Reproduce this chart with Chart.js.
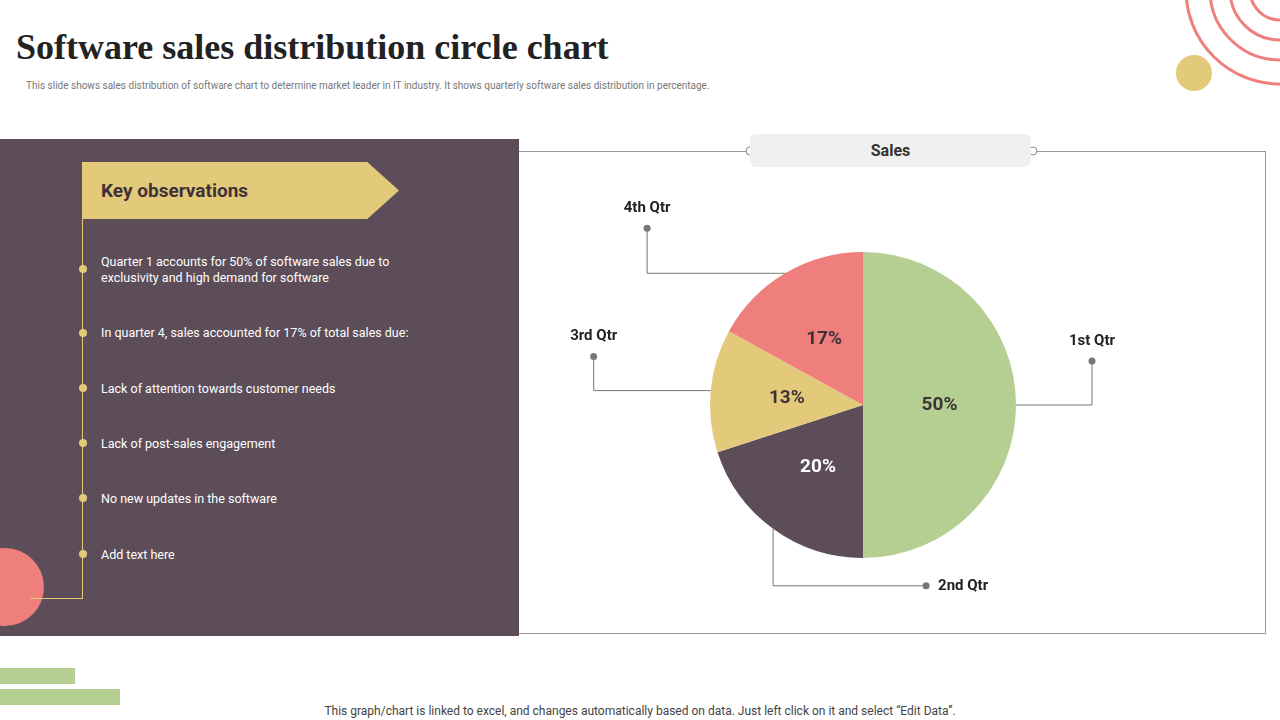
<!DOCTYPE html>
<html>
<head>
<meta charset="utf-8">
<script src="https://cdn.jsdelivr.net/npm/chart.js@4/dist/chart.umd.min.js"></script>
<style>
  body { margin: 0; width: 1280px; height: 720px; position: relative; overflow: hidden; background: #fff; font-family: Roboto, "Liberation Sans", sans-serif; }
  .abs { position: absolute; }
  h1 { position: absolute; left: 16px; top: 26px; margin: 0; font-family: "Liberation Serif", serif; font-size: 36px; font-weight: bold; color: #222; }
  .sub { left: 26px; top: 80px; font-size: 10px; color: #777; }
  .panel { left: 0; top: 139px; width: 519px; height: 497px; background: #5c4d58; overflow: hidden; }
  .key { left: 82px; top: 162px; width: 317px; height: 57px; background: #e3c97a; clip-path: polygon(0 0, 90% 0, 100% 50%, 90% 100%, 0 100%); }
  .key span { position: absolute; left: 19px; top: 17px; font-size: 19px; font-weight: bold; color: #3e3238; }
  .vline { left: 82px; top: 219px; width: 1px; height: 380px; background: #e3c97a; }
  .hline { left: 30px; top: 598px; width: 53px; height: 1px; background: #e3c97a; }
  .dot { width: 8px; height: 8px; border-radius: 50%; background: #e3c97a; }
  .obs { left: 101px; font-size: 12.5px; color: #fff; line-height: 16px; }
  .box { left: 519px; top: 151px; width: 746px; height: 481px; border: 1px solid #999; border-left: none; }
  .sales { left: 750px; top: 134px; width: 281px; height: 33px; background: #f0f0f0; border-radius: 6px; text-align: center; line-height: 34px; font-size: 16px; font-weight: bold; color: #333; }
  .foot { left: 0; width: 1280px; top: 704px; text-align: center; font-size: 12px; color: #444; }
</style>
</head>
<body>
<h1>Software sales distribution circle chart</h1>
<div class="abs sub">This slide shows sales distribution of software chart to determine market leader in IT industry. It shows quarterly software sales distribution in percentage.</div>

<svg class="abs" style="left:1150px;top:0" width="130" height="100">
  <g fill="none" stroke="#ef7f7c" stroke-width="3">
    <circle cx="130" cy="-10" r="30"/><circle cx="130" cy="-10" r="50"/>
    <circle cx="130" cy="-10" r="70"/><circle cx="130" cy="-10" r="94"/>
  </g>
  <circle cx="44" cy="73" r="18" fill="#e3c97a"/>
</svg>

<div class="abs panel">
  <div class="abs" style="left:-34px;top:409px;width:78px;height:78px;border-radius:50%;background:#ef7f7c"></div>
</div>
<div class="abs key"><span>Key observations</span></div>
<div class="abs vline"></div>
<div class="abs hline"></div>
<div class="abs dot" style="left:79px;top:265px"></div>
<div class="abs dot" style="left:79px;top:329px"></div>
<div class="abs dot" style="left:79px;top:384px"></div>
<div class="abs dot" style="left:79px;top:439px"></div>
<div class="abs dot" style="left:79px;top:494px"></div>
<div class="abs dot" style="left:79px;top:550px"></div>
<div class="abs obs" style="top:254px">Quarter 1 accounts for 50% of software sales due to<br>exclusivity and high demand for software</div>
<div class="abs obs" style="top:325px">In quarter 4, sales accounted for 17% of total sales due:</div>
<div class="abs obs" style="top:381px">Lack of attention towards customer needs</div>
<div class="abs obs" style="top:436px">Lack of post-sales engagement</div>
<div class="abs obs" style="top:491px">No new updates in the software</div>
<div class="abs obs" style="top:547px">Add text here</div>

<div class="abs box"></div>
<svg class="abs" style="left:519px;top:145px" width="760" height="14">
  <circle cx="231" cy="6" r="4" fill="#fff" stroke="#888"/>
  <circle cx="514" cy="6" r="4" fill="#fff" stroke="#888"/>
</svg>
<div class="abs sales">Sales</div>

<div class="abs" style="left:520px;top:170px;width:686px;height:470px"><canvas id="pie"></canvas></div>

<div class="abs" style="left:0;top:668px;width:75px;height:16px;background:#b5cf93"></div>
<div class="abs" style="left:0;top:689px;width:120px;height:16px;background:#b5cf93"></div>
<div class="abs foot">This graph/chart is linked to excel, and changes automatically based on data. Just left click on it and select “Edit Data”.</div>

<script>
const quarters = ['1st Qtr', '2nd Qtr', '3rd Qtr', '4th Qtr'];
const salesPct = [50, 20, 13, 17];
const sliceColors = ['#b5cf93', '#5c4d58', '#e3c97a', '#ef7f7c'];
const pctColors = ['#3e3238', '#ffffff', '#3e3238', '#3e3238'];

// leader lines: [dx1, dy1 (elbow from edge), dx2, dy2 (to end dot)], label side
const leaders = [
    { turn: [76, 0], end: [0, -44], side: 'top' },
    { turn: [0, 57], end: [153, 0], side: 'right' },
    { turn: [-117, 0], end: [0, -34], side: 'top' },
    { turn: [-138, 0], end: [0, -45], side: 'top' }
];

const calloutPlugin = {
    id: 'callouts',
    afterDatasetsDraw(chart) {
        const ctx = chart.ctx;
        const arcs = chart.getDatasetMeta(0).data;
        arcs.forEach((arc, i) => {
            const mid = (arc.startAngle + arc.endAngle) / 2;
            const p = arc.tooltipPosition();
            ctx.save();
            ctx.font = 'bold 19px Roboto, sans-serif';
            ctx.fillStyle = pctColors[i];
            ctx.textAlign = 'center';
            ctx.textBaseline = 'middle';
            ctx.fillText(salesPct[i] + '%', p.x, p.y);

            const ex = arc.x + Math.cos(mid) * arc.outerRadius;
            const ey = arc.y + Math.sin(mid) * arc.outerRadius;
            const L = leaders[i];
            const tx = ex + L.turn[0], ty = ey + L.turn[1];
            const dx = tx + L.end[0], dy = ty + L.end[1];
            ctx.strokeStyle = '#777';
            ctx.lineWidth = 1;
            ctx.beginPath();
            ctx.moveTo(ex, ey); ctx.lineTo(tx, ty); ctx.lineTo(dx, dy);
            ctx.stroke();
            ctx.fillStyle = '#777';
            ctx.beginPath(); ctx.arc(dx, dy, 3.5, 0, Math.PI * 2); ctx.fill();
            ctx.font = 'bold 15px Roboto, sans-serif';
            ctx.fillStyle = '#222';
            if (L.side === 'top') {
                ctx.textAlign = 'center';
                ctx.fillText(quarters[i], dx, dy - 20);
            } else {
                ctx.textAlign = 'left';
                ctx.fillText(quarters[i], dx + 12, dy);
            }
            ctx.restore();
        });
    }
};

new Chart(document.getElementById('pie'), {
    type: 'pie',
    data: {
        labels: quarters,
        datasets: [{
            data: salesPct,
            backgroundColor: sliceColors,
            borderWidth: 0
        }]
    },
    options: {
        responsive: true,
        maintainAspectRatio: false,
        animation: false,
        radius: 153,
        plugins: { legend: { display: false }, tooltip: { enabled: false } }
    },
    plugins: [calloutPlugin]
});
</script>
</body>
</html>
